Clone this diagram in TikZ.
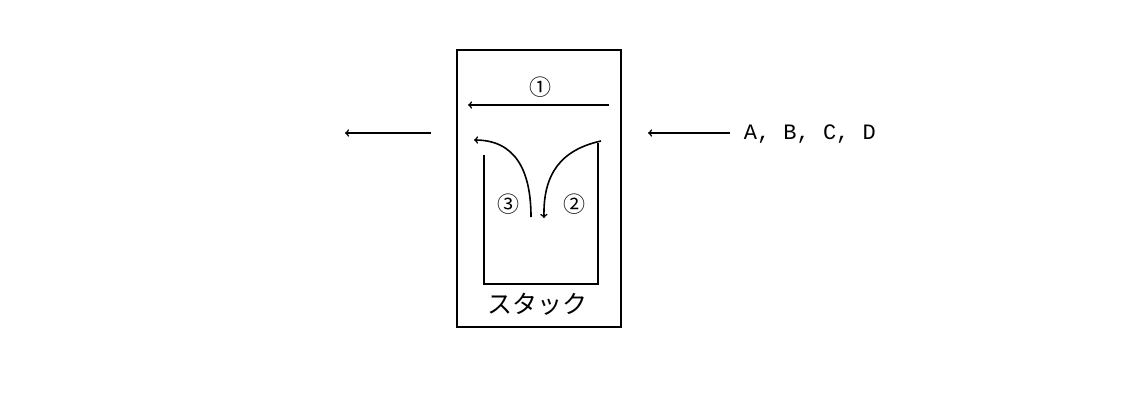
\documentclass[tikz,border=0pt]{standalone}
\usepackage{fontspec}
\newfontfamily\jpfont{Noto Sans CJK JP}
\setmonofont{Liberation Mono}
\usetikzlibrary{arrows}
\begin{document}
\begin{tikzpicture}[x=1pt, y=-1pt, >=to, line width=1.6pt,
    lbl/.style={font=\jpfont\fontsize{22}{26}\selectfont, inner sep=0pt}]
    \useasboundingbox (0,0) rectangle (1127,405);
    % outer frame
    \draw (457,50) rectangle (621,327);
    % stack
    \draw (484,155) -- (484,284) -- (598,284) -- (598,143);
    \node[lbl, font=\jpfont\fontsize{25}{30}\selectfont] (stk) at (537,304) {スタック};
    % endpoints
    \coordinate (in1) at (609,105);
    \coordinate (out1) at (468,105);
    \coordinate (in2) at (601,141);
    \coordinate (bot2) at (544,218);
    \coordinate (bot3) at (531,217);
    \coordinate (out3) at (474,140);
    \coordinate (srcA) at (730,133);
    \coordinate (srcB) at (648,133);
    \coordinate (dstA) at (431,133);
    \coordinate (dstB) at (345,133);
    % arrows
    \draw[->] (in1) -- (out1);
    \draw[->] (in2) .. controls (560,150) and (543,175) .. (bot2);
    \draw[->] (bot3) .. controls (531,170) and (515,140) .. (out3);
    \draw[->] (srcA) -- (srcB);
    \draw[->] (dstA) -- (dstB);
    % labels
    \node[lbl] (n1) at (540,87) {①};
    \node[lbl] (n2) at (574,204) {②};
    \node[lbl] (n3) at (508,204) {③};
    \node[font=\ttfamily\fontsize{22}{26}\selectfont, anchor=west, inner sep=0pt] (abcd) at (743,134) {A, B, C, D};
\end{tikzpicture}
\end{document}
